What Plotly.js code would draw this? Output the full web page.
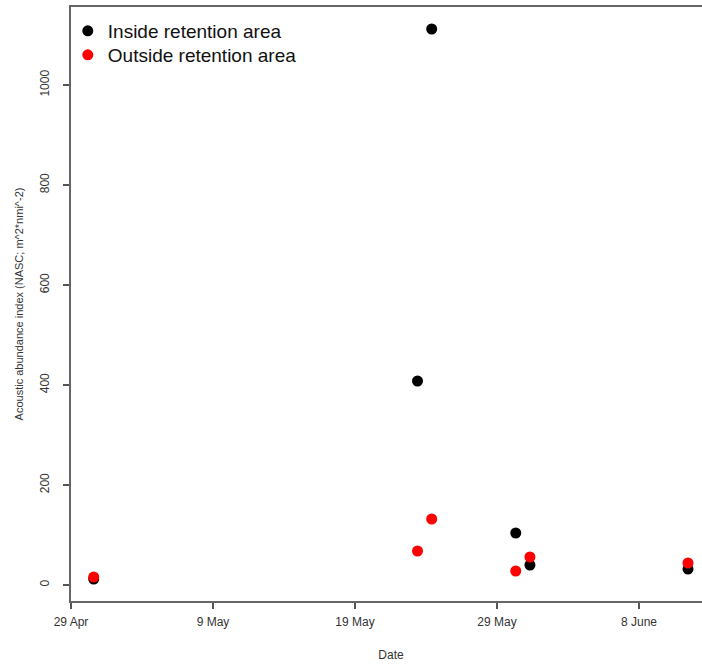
<!DOCTYPE html>
<html>
<head>
<meta charset="utf-8">
<script src="https://cdn.plot.ly/plotly-3.0.1.min.js"></script>
<style>
html, body { margin: 0; padding: 0; overflow: hidden; background: #fff; }
#chart { width: 712px; height: 665px; }
</style>
</head>
<body>
<div id="chart"></div>
<script>
// Survey dates (with approximate times)
const surveyDates = [
  '2014-04-30 14:24',
  '2014-05-23 09:36',
  '2014-05-24 09:36',
  '2014-05-30 07:40',
  '2014-05-31 07:40',
  '2014-06-11 10:48'
];
// Acoustic abundance index (NASC)
const insideValues = [12, 408, 1112, 104, 40, 32];
const outsideValues = [16, 68, 132, 28, 56, 44];

const xTickVals = ['2014-04-29', '2014-05-09', '2014-05-19', '2014-05-29', '2014-06-08'];
const xTickText = ['29 Apr', '9 May', '19 May', '29 May', '8 June'];
const yTickVals = [0, 200, 400, 600, 800, 1000];

const traces = [
  {
    x: surveyDates, y: insideValues, type: 'scatter', mode: 'markers',
    name: 'Inside retention area', legend: 'legend',
    marker: { color: '#000000', size: 11 }
  },
  {
    x: surveyDates, y: outsideValues, type: 'scatter', mode: 'markers',
    name: 'Outside retention area', legend: 'legend2',
    marker: { color: '#ff0000', size: 11 }
  }
];

const axisFont = { family: 'Liberation Sans, Arial, sans-serif', size: 12, color: '#333' };
const legendFont = { family: 'Liberation Sans, Arial, sans-serif', size: 19, color: '#111' };

const layout = {
  width: 712, height: 665,
  margin: { l: 71, r: 1, t: 7, b: 64 },
  paper_bgcolor: '#fff', plot_bgcolor: '#fff',
  showlegend: true,
  legend: {
    x: -0.005, y: 0.9916, xanchor: 'left', yanchor: 'top',
    bgcolor: 'rgba(0,0,0,0)', borderwidth: 0, font: legendFont
  },
  legend2: {
    x: -0.005, y: 0.9512, xanchor: 'left', yanchor: 'top',
    bgcolor: 'rgba(0,0,0,0)', borderwidth: 0, font: legendFont
  },
  xaxis: {
    type: 'date',
    range: ['2014-04-29 00:00', '2014-06-13 01:40'],
    tickvals: xTickVals, ticktext: xTickText,
    ticks: 'outside', ticklen: 6, tickcolor: '#555', tickwidth: 1.5,
    showgrid: false, zeroline: false,
    showline: true, linecolor: '#666', linewidth: 2, mirror: true,
    tickfont: axisFont, ticklabelstandoff: 3,
    title: { text: 'Date', font: axisFont, standoff: 22 }
  },
  yaxis: {
    range: [-32, 1156],
    tickvals: yTickVals,
    ticks: 'outside', ticklen: 6, tickcolor: '#555', tickwidth: 1.5,
    tickangle: -90,
    showgrid: false, zeroline: false,
    showline: true, linecolor: '#666', linewidth: 2, mirror: true,
    tickfont: axisFont, ticklabelstandoff: 9,
    title: { text: 'Acoustic abundance index (NASC; m^2*nmi^-2)', font: { family: 'Liberation Sans, Arial, sans-serif', size: 11, color: '#333' }, standoff: 12 }
  }
};

Plotly.newPlot('chart', traces, layout, { displayModeBar: false, staticPlot: true });
</script>
</body>
</html>
